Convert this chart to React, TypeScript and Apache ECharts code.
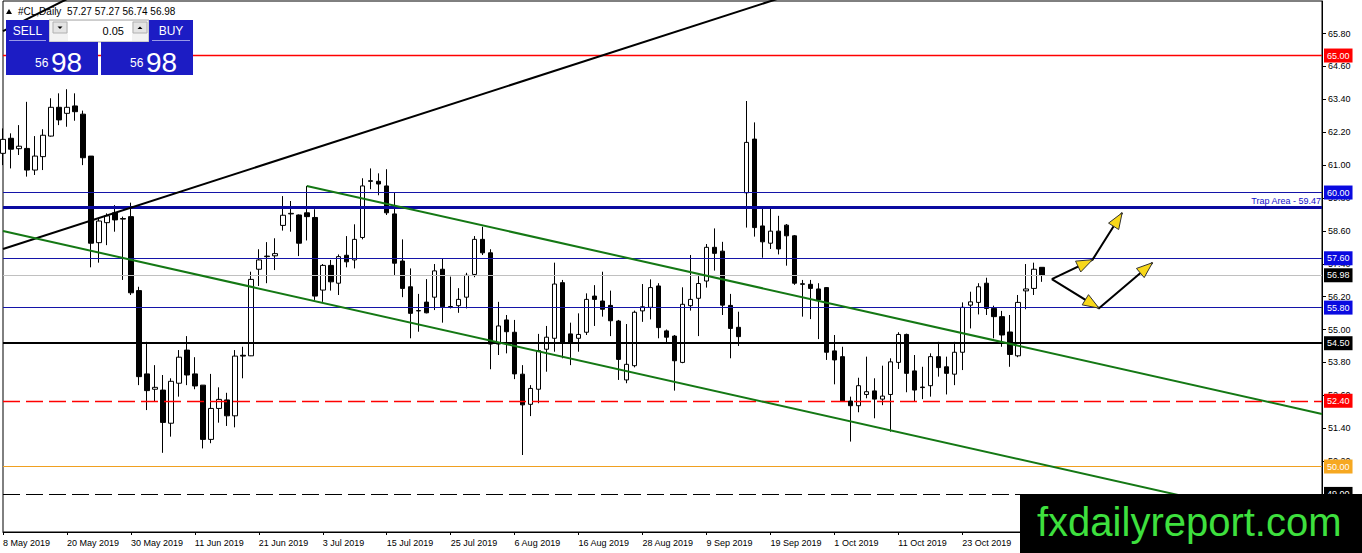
import React, { useEffect, useRef } from "react";
import * as echarts from "echarts";

// ---------------- data ----------------
const MONTHS = ["Jan", "Feb", "Mar", "Apr", "May", "Jun", "Jul", "Aug", "Sep", "Oct", "Nov", "Dec"];
const FIRST_DAY = [2019, 4, 8]; // 8 May 2019 (UTC y, m, d)
const SLOT_COUNT = 166; // trading-day slots shown on the axis (incl. empty future)
const LAST_LABEL_INDEX = 127;

const OPEN = [
  61.43, 61.98, 61.6, 61.61, 60.82, 61.31, 62.06, 63.11, 62.89, 63.16,
  62.86, 61.33, 58.17, 58.9, 59.26, 59.05, 59.12, 56.42, 53.38, 52.82,
  52.79, 51.58, 53.04, 54.25, 53.38, 52.97, 50.99, 52.12, 52.43, 51.85,
  54.06, 54.04, 57.2, 57.66, 57.69, 58.8, 59.22, 59.18, 59.26, 59.09,
  56.44, 57.34, 56.69, 57.71, 57.54, 58.36, 60.43, 60.41, 60.24, 59.22,
  57.5, 56.56, 55.69, 56.0, 56.18, 57.2, 55.84, 55.87, 56.18, 57.01,
  58.29, 57.8, 54.47, 55.35, 54.9, 53.37, 52.27, 52.82, 54.28, 54.68,
  56.71, 54.84, 54.68, 54.9, 56.22, 56.04, 55.88, 55.31, 53.16, 53.68,
  55.68, 55.81, 56.59, 54.95, 54.76, 53.8, 55.87, 56.14, 56.77, 58.0,
  57.86, 55.88, 55.08, 59.99, 61.95, 58.78, 58.15, 58.59, 58.81, 58.42,
  56.67, 56.65, 56.48, 56.53, 54.22, 54.01, 52.39, 52.22, 52.63, 52.76,
  52.46, 52.63, 53.8, 54.82, 53.49, 52.9, 52.95, 54.01, 53.64, 53.37,
  54.17, 55.89, 55.99, 56.69, 55.77, 55.47, 54.91, 54.04, 56.41, 56.5,
  57.27,
];
const HIGH = [
  62.34, 62.16, 62.46, 63.31, 62.06, 62.31, 63.44, 63.62, 63.77, 63.62,
  62.99, 61.33, 59.06, 59.24, 59.54, 59.12, 59.63, 56.56, 54.55, 53.7,
  53.34, 53.22, 54.25, 54.76, 53.99, 52.97, 53.38, 52.89, 52.69, 54.25,
  54.37, 57.11, 57.93, 58.19, 58.33, 59.87, 59.69, 59.2, 60.24, 59.39,
  57.39, 57.54, 57.74, 58.41, 58.84, 60.52, 60.88, 60.7, 60.85, 59.99,
  58.29, 57.23, 56.3, 56.84, 57.39, 57.6, 56.93, 56.51, 57.07, 58.41,
  58.75, 57.93, 56.01, 55.53, 55.35, 53.7, 52.97, 54.84, 55.13, 57.44,
  56.81, 55.25, 55.59, 56.32, 56.62, 57.11, 56.42, 55.35, 55.2, 55.69,
  56.66, 56.83, 56.69, 55.0, 54.8, 56.54, 57.72, 56.95, 58.12, 58.69,
  58.2, 56.3, 55.65, 63.34, 62.56, 59.42, 59.48, 59.15, 58.85, 58.45,
  56.81, 56.81, 56.69, 56.55, 54.8, 54.37, 52.55, 53.24, 54.01, 53.22,
  53.68, 53.95, 54.9, 54.85, 54.07, 53.64, 54.13, 54.55, 54.01, 54.55,
  55.99, 56.38, 56.69, 56.89, 55.87, 55.68, 55.53, 56.26, 57.39, 57.44,
  57.27,
];
const LOW = [
  61.0, 60.88, 61.37, 60.58, 60.64, 60.82, 62.04, 62.46, 62.4, 62.62,
  61.0, 57.27, 57.44, 58.08, 58.57, 56.81, 56.26, 52.97, 52.06, 52.36,
  50.5, 51.09, 52.55, 52.97, 52.82, 50.66, 50.85, 51.6, 51.48, 51.43,
  53.22, 54.03, 56.59, 56.69, 57.17, 58.61, 58.57, 57.68, 58.25, 56.08,
  56.01, 56.42, 56.26, 57.27, 57.23, 58.29, 60.12, 59.9, 59.18, 56.99,
  56.18, 54.68, 54.92, 55.59, 55.71, 55.25, 55.77, 55.61, 55.77, 56.91,
  57.72, 53.55, 54.07, 54.13, 53.19, 50.42, 51.84, 52.31, 53.46, 54.19,
  53.95, 53.7, 54.19, 54.8, 55.13, 55.47, 54.76, 53.16, 53.04, 53.62,
  55.28, 55.37, 54.68, 54.5, 52.77, 53.77, 55.69, 54.76, 56.53, 57.15,
  55.53, 53.95, 54.4, 58.72, 58.39, 57.62, 57.94, 57.74, 57.33, 56.63,
  55.47, 55.38, 54.65, 53.89, 53.0, 52.36, 50.91, 51.98, 52.49, 51.76,
  52.24, 51.27, 53.56, 52.71, 52.39, 52.46, 52.55, 53.28, 52.63, 52.97,
  53.52, 55.04, 55.55, 55.53, 54.68, 54.37, 53.64, 53.99, 55.74, 56.26,
  56.74,
];
const CLOSE = [
  61.94, 61.58, 61.69, 60.82, 61.33, 62.09, 63.11, 62.65, 63.11, 62.95,
  61.27, 58.15, 58.96, 59.15, 59.0, 59.03, 56.34, 53.28, 52.77, 52.89,
  51.61, 53.11, 53.99, 53.34, 52.94, 50.99, 52.12, 52.45, 51.85, 54.03,
  54.03, 56.83, 57.54, 57.68, 57.77, 59.17, 59.24, 58.15, 59.12, 56.22,
  57.34, 56.74, 57.66, 57.47, 58.29, 60.24, 60.41, 60.31, 59.26, 57.42,
  56.5, 55.59, 55.68, 55.61, 57.14, 55.83, 55.83, 56.1, 56.98, 58.29,
  57.8, 54.47, 55.13, 54.92, 53.38, 52.25, 52.85, 54.23, 54.72, 56.66,
  54.52, 54.52, 54.82, 56.1, 56.1, 55.74, 55.32, 53.91, 53.73, 55.63,
  55.83, 56.53, 55.07, 54.72, 53.86, 55.92, 56.1, 56.68, 58.0, 57.78,
  55.89, 55.04, 54.74, 61.83, 58.72, 58.2, 58.59, 57.94, 58.42, 56.69,
  56.65, 56.5, 56.08, 54.17, 53.89, 52.39, 52.22, 52.95, 52.73, 52.46,
  52.57, 53.82, 54.82, 53.4, 52.79, 52.88, 54.01, 53.61, 53.4, 54.17,
  55.81, 56.01, 56.56, 55.77, 55.47, 54.8, 54.09, 55.99, 56.48, 57.2,
  56.98,
];

const Y_TICKS = [49.0, 50.2, 51.4, 52.6, 53.8, 55.0, 56.2, 57.4, 58.6, 59.8, 61.0, 62.2, 63.4, 64.6, 65.8];
const Y_MIN = 47.61;
const Y_MAX = 66.99;

// horizontal levels
const LEVEL_VALUES = [65.0, 60.0, 59.47, 57.6, 56.98, 55.8, 54.5, 52.4, 50.0, 49.0];
const LEVEL_KINDS = ["red", "blue", "trap", "blue", "bid", "blue", "support", "redDash", "orange", "blackDash"];
const TRAP_TEXT = "Trap Area - 59.47";

// trend lines, points as [bar index, price]
const TREND_BLACK_MAIN = [[0, 57.94], [100, 67.36]];
const TREND_BLACK_TOP = [[0, 65.89], [8, 67.06]];
const CHANNEL_UPPER = [[38, 60.24], [165, 51.92]];
const CHANNEL_LOWER = [[0, 58.595], [165, 47.78]];

// hand-drawn arrows, points as [bar index, price]
const ARROW_UP = [[131.2, 56.84], [136.3, 57.55], [140.0, 59.26]];
const ARROW_DOWN = [[131.2, 56.84], [137.1, 55.78], [143.8, 57.44]];

const HEADER_TEXT = "#CL,Daily  57.27 57.27 56.74 56.98";
const PRICE_BIG = "98";
const PRICE_SMALL = "56";
const LOT = "0.05";
const WATERMARK = "fxdailyreport.com";

// ---------------- helpers ----------------
function buildDates(n: number): string[] {
  const out: string[] = [];
  let t = Date.UTC(FIRST_DAY[0], FIRST_DAY[1], FIRST_DAY[2]);
  while (out.length < n) {
    const d = new Date(t);
    const wd = d.getUTCDay();
    if (wd !== 0 && wd !== 6) out.push(`${d.getUTCDate()} ${MONTHS[d.getUTCMonth()]} ${d.getUTCFullYear()}`);
    t += 86400000;
  }
  return out;
}

const FONT = "'Liberation Sans', Arial, sans-serif";

const KIND_STYLE: Record<string, any> = {
  red: { line: { color: "#ff0000", width: 1.4, type: "solid" }, box: "#ff0000" },
  blue: { line: { color: "#1414a8", width: 1, type: "solid" }, box: "#0a0ae0" },
  trap: { line: { color: "#0a0aa0", width: 3, type: "solid" }, box: null },
  bid: { line: { color: "#c0c0c0", width: 1, type: "solid" }, box: "#000000" },
  support: { line: { color: "#000000", width: 2, type: "solid" }, box: "#000000" },
  redDash: { line: { color: "#ff0000", width: 1.4, type: [17, 6] }, box: "#ff0000" },
  orange: { line: { color: "#f0a020", width: 1, type: "solid" }, box: "#f6a821" },
  blackDash: { line: { color: "#000000", width: 1, type: [17, 6] }, box: "#000000" },
};

function buildOption() {
  const dates = buildDates(SLOT_COUNT);
  const candles = OPEN.map((o, i) => [o, CLOSE[i], LOW[i], HIGH[i]]);
  const labelInterval = (i: number) => i % 8 === 0 && i <= LAST_LABEL_INDEX;
  const tickInterval = (i: number) => i % 8 === 0;

  const markData = LEVEL_VALUES.map((v, i) => {
    const kind = LEVEL_KINDS[i];
    const st = KIND_STYLE[kind];
    const label =
      kind === "trap"
        ? {
            show: true,
            position: "insideEndTop",
            formatter: () => TRAP_TEXT,
            color: "#1010c8",
            fontSize: 9,
            fontFamily: FONT,
            distance: [1, 2],
          }
        : {
            show: true,
            position: "end",
            formatter: () => v.toFixed(2),
            color: "#ffffff",
            backgroundColor: st.box,
            padding: [1, 3, 1, 3],
            lineHeight: 12,
            fontSize: 9,
            fontFamily: FONT,
            distance: 2,
          };
    return { yAxis: v, lineStyle: { ...st.line, opacity: 1 }, label };
  });

  const trendLine = (data: number[][], color: string, width = 2) => ({
    type: "line",
    data,
    symbol: "none",
    clip: true,
    silent: true,
    z: 4,
    lineStyle: { color, width },
  });

  return {
    animation: false,
    backgroundColor: "#ffffff",
    grid: { left: 3, right: 40, top: 1, bottom: 21, show: true, borderColor: "#000", borderWidth: 1, backgroundColor: "#fff" },
    xAxis: {
      type: "category",
      data: dates,
      boundaryGap: false,
      axisLine: { show: true, lineStyle: { color: "#000", width: 1 } },
      axisTick: { show: true, interval: tickInterval, length: 3, lineStyle: { color: "#000" } },
      axisLabel: { interval: labelInterval, align: "left", color: "#000", fontSize: 9, fontFamily: FONT, margin: 6 },
      splitLine: { show: false },
    },
    yAxis: {
      type: "value",
      position: "right",
      min: Y_MIN,
      max: Y_MAX,
      axisLine: { show: true, lineStyle: { color: "#000", width: 1 } },
      axisTick: { show: true, customValues: Y_TICKS, length: 4, lineStyle: { color: "#000" } },
      axisLabel: {
        customValues: Y_TICKS,
        formatter: (v: number) => v.toFixed(2),
        color: "#000",
        fontSize: 9,
        fontFamily: FONT,
        margin: 6,
      },
      splitLine: { show: false },
    },
    series: [
      {
        type: "candlestick",
        data: candles,
        barWidth: 5,
        z: 2,
        silent: true,
        itemStyle: { color: "#ffffff", color0: "#000000", borderColor: "#000000", borderColor0: "#000000", borderWidth: 1 },
        markLine: { symbol: ["none", "none"], silent: true, z: 3, data: markData },
      },
      trendLine(TREND_BLACK_MAIN, "#000000"),
      trendLine(TREND_BLACK_TOP, "#000000"),
      trendLine(CHANNEL_UPPER, "#147814"),
      trendLine(CHANNEL_LOWER, "#147814"),
    ],
  };
}

function buildGraphics(chart: any) {
  const px = (idx: number, price: number) => {
    const a = chart.convertToPixel({ gridIndex: 0 }, [0, price]) as number[];
    const b = chart.convertToPixel({ gridIndex: 0 }, [1, price]) as number[];
    return [a[0] + (b[0] - a[0]) * idx, a[1]];
  };
  const Z = 100;
  const els: any[] = [];

  // arrows
  const head = (from: number[], to: number[]) => {
    const dx = to[0] - from[0];
    const dy = to[1] - from[1];
    const len = Math.hypot(dx, dy) || 1;
    const ux = dx / len;
    const uy = dy / len;
    const L = 16;
    const W = 6;
    const bx = to[0] - ux * L;
    const by = to[1] - uy * L;
    return {
      type: "polygon",
      z: Z + 2,
      shape: { points: [to, [bx - uy * W, by + ux * W], [bx + uy * W, by - ux * W]] },
      style: { fill: "#f8d81a", stroke: "#333", lineWidth: 1 },
    };
  };
  [ARROW_UP, ARROW_DOWN].forEach((path) => {
    const pts = path.map((p) => px(p[0], p[1]));
    els.push({ type: "polyline", z: Z + 1, shape: { points: pts }, style: { stroke: "#000", lineWidth: 2, fill: null } });
    for (let k = 1; k < pts.length; k++) els.push(head(pts[k - 1], pts[k]));
  });

  // header
  els.push({ type: "polygon", z: Z, shape: { points: [[6, 14], [12, 14], [9, 9]] }, style: { fill: "#000" } });
  els.push({
    type: "text",
    z: Z,
    x: 18,
    y: 11,
    style: { text: HEADER_TEXT, fill: "#000", font: `10px ${FONT}`, textVerticalAlign: "middle" },
  });

  // trade panel
  const BLUE = "#1c1cc4";
  els.push({ type: "rect", z: Z, shape: { x: 49, y: 20, width: 100, height: 22 }, style: { fill: "#f2f2f2", stroke: "#a8a8a8", lineWidth: 1 } });
  els.push({ type: "rect", z: Z, shape: { x: 68, y: 21, width: 64, height: 20 }, style: { fill: "#fff" } });
  els.push({ type: "rect", z: Z, shape: { x: 53, y: 22, width: 14, height: 11 }, style: { fill: "#e4e4e4", stroke: "#b0b0b0", lineWidth: 1 } });
  els.push({ type: "polygon", z: Z + 1, shape: { points: [[57.5, 26.5], [62.5, 26.5], [60, 29]] }, style: { fill: "#000" } });
  els.push({ type: "rect", z: Z, shape: { x: 133, y: 22, width: 14, height: 11 }, style: { fill: "#e4e4e4", stroke: "#b0b0b0", lineWidth: 1 } });
  els.push({ type: "polygon", z: Z + 1, shape: { points: [[137.5, 29], [142.5, 29], [140, 26.5]] }, style: { fill: "#000" } });
  els.push({
    type: "text",
    z: Z + 1,
    x: 124,
    y: 31,
    style: { text: LOT, fill: "#000", font: `11px ${FONT}`, textAlign: "right", textVerticalAlign: "middle" },
  });
  // SELL / BUY buttons
  [
    { x: 6, w: 43, t: "SELL" },
    { x: 149, w: 44, t: "BUY" },
  ].forEach((b) => {
    els.push({ type: "rect", z: Z, shape: { x: b.x, y: 20, width: b.w, height: 22 }, style: { fill: BLUE } });
    els.push({ type: "rect", z: Z + 1, shape: { x: b.x + 3, y: 40, width: b.w - 6, height: 1 }, style: { fill: "#9a9ae8" } });
    els.push({
      type: "text",
      z: Z + 1,
      x: b.x + b.w / 2,
      y: 31,
      style: { text: b.t, fill: "#fff", font: `12px ${FONT}`, textAlign: "center", textVerticalAlign: "middle" },
    });
  });
  // big price boxes
  [6, 101].forEach((x0) => {
    els.push({ type: "rect", z: Z, shape: { x: x0, y: 42, width: 92, height: 33 }, style: { fill: BLUE } });
    els.push({
      type: "text",
      z: Z + 1,
      x: x0 + 29,
      y: 69,
      style: { text: PRICE_SMALL, fill: "#fff", font: `12px ${FONT}`, textVerticalAlign: "bottom" },
    });
    els.push({
      type: "text",
      z: Z + 1,
      x: x0 + 45,
      y: 76,
      style: { text: PRICE_BIG, fill: "#fff", font: `28px ${FONT}`, textVerticalAlign: "bottom" },
    });
  });

  // watermark
  els.push({ type: "rect", z: Z + 5, shape: { x: 1020, y: 494, width: 342, height: 59 }, style: { fill: "#000" } });
  els.push({
    type: "text",
    z: Z + 6,
    x: 1037,
    y: 522,
    style: { text: WATERMARK, fill: "#3ee03e", font: `40px ${FONT}`, textVerticalAlign: "middle" },
  });
  return els;
}

export default function App() {
  const ref = useRef<HTMLDivElement>(null);
  useEffect(() => {
    const el = ref.current;
    if (!el) return;
    const chart = echarts.init(el, null, { renderer: "svg" });
    chart.setOption(buildOption() as any);
    chart.setOption({ graphic: { elements: buildGraphics(chart) } } as any);
    return () => chart.dispose();
  }, []);
  return (
    <div
      ref={ref}
      style={{ position: "fixed", left: 0, top: 0, width: 1362, height: 553, background: "#fff" }}
    />
  );
}
